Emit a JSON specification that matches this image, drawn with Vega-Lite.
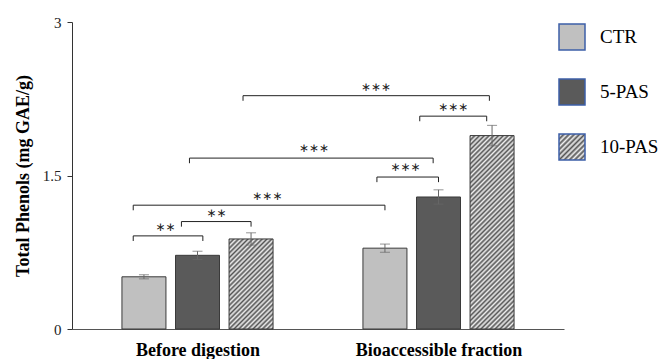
{
"$schema":"https://vega.github.io/schema/vega-lite/v6.json",
"width":492,"height":307,
"autosize":{"type":"none"},
"padding":{"left":72,"top":22,"right":99,"bottom":30},
"background":"white",
"config":{"view":{"stroke":null},"axis":{"labelFont":"Liberation Serif","titleFont":"Liberation Serif"}},
"datasets":{
"bars":[
{"grp":"Before digestion","trt":"CTR","pos":1,"v":0.51,"e":0.02},
{"grp":"Before digestion","trt":"5-PAS","pos":2,"v":0.72,"e":0.04},
{"grp":"Before digestion","trt":"10-PAS","pos":3,"v":0.88,"e":0.06},
{"grp":"Bioaccessible fraction","trt":"CTR","pos":5.5,"v":0.79,"e":0.04},
{"grp":"Bioaccessible fraction","trt":"5-PAS","pos":6.5,"v":1.29,"e":0.07},
{"grp":"Bioaccessible fraction","trt":"10-PAS","pos":7.5,"v":1.89,"e":0.1}
],
"brackets":[
{"id":"A","k":1,"pos":0.8,"y":0.86},{"id":"A","k":2,"pos":0.8,"y":0.91},{"id":"A","k":3,"pos":2.1,"y":0.91},{"id":"A","k":4,"pos":2.1,"y":0.86},
{"id":"B","k":1,"pos":1.7,"y":1.0},{"id":"B","k":2,"pos":1.7,"y":1.05},{"id":"B","k":3,"pos":3.0,"y":1.05},{"id":"B","k":4,"pos":3.0,"y":1.0},
{"id":"C","k":1,"pos":0.8,"y":1.16},{"id":"C","k":2,"pos":0.8,"y":1.21},{"id":"C","k":3,"pos":5.5,"y":1.21},{"id":"C","k":4,"pos":5.5,"y":1.16},
{"id":"D","k":1,"pos":1.85,"y":1.62},{"id":"D","k":2,"pos":1.85,"y":1.67},{"id":"D","k":3,"pos":6.4,"y":1.67},{"id":"D","k":4,"pos":6.4,"y":1.62},
{"id":"E","k":1,"pos":5.35,"y":1.435},{"id":"E","k":2,"pos":5.35,"y":1.485},{"id":"E","k":3,"pos":6.5,"y":1.485},{"id":"E","k":4,"pos":6.5,"y":1.435},
{"id":"F","k":1,"pos":2.85,"y":2.23},{"id":"F","k":2,"pos":2.85,"y":2.28},{"id":"F","k":3,"pos":7.45,"y":2.28},{"id":"F","k":4,"pos":7.45,"y":2.23},
{"id":"G","k":1,"pos":6.15,"y":2.03},{"id":"G","k":2,"pos":6.15,"y":2.08},{"id":"G","k":3,"pos":7.4,"y":2.08},{"id":"G","k":4,"pos":7.4,"y":2.03}
],
"labels":[
{"id":"A","pos":1.4,"y":1.0,"t":"∗∗"},
{"id":"B","pos":2.35,"y":1.13,"t":"∗∗"},
{"id":"C","pos":3.3,"y":1.3,"t":"∗∗∗"},
{"id":"D","pos":4.17,"y":1.766,"t":"∗∗∗"},
{"id":"E","pos":5.88,"y":1.58,"t":"∗∗∗"},
{"id":"F","pos":5.33,"y":2.368,"t":"∗∗∗"},
{"id":"G","pos":6.77,"y":2.167,"t":"∗∗∗"}
]
},
"layer":[
{
"data":{"name":"bars"},
"mark":{"type":"bar","width":44,"stroke":"#3a3a3a","strokeWidth":1},
"encoding":{
"x":{"field":"pos","type":"quantitative","scale":{"domain":[-0.25,8.75],"nice":false,"zero":false},
"axis":{"values":[2,6.5],"labelExpr":"datum.value < 4 ? 'Before digestion' : 'Bioaccessible fraction'","ticks":false,"grid":false,"title":null,"labelFont":"Liberation Serif","labelFontWeight":"bold","labelFontSize":18,"labelColor":"#000","labelPadding":12,"domainColor":"#555","labelOverlap":false,"labelFlush":false}},
"y":{"field":"v","type":"quantitative","title":"Total Phenols (mg GAE/g)","scale":{"domain":[0,3],"nice":false},
"axis":{"values":[0,1.5,3],"format":"~g","grid":false,"titleFont":"Liberation Serif","titleFontWeight":"bold","titleFontSize":18,"titleColor":"#000","titlePadding":10,"labelFont":"Liberation Serif","labelFontSize":15,"labelColor":"#222","labelPadding":6,"tickSize":5,"tickColor":"#333","domainColor":"#333"}},
"fill":{
"condition":[
{"test":"datum.trt==='10-PAS' && datum.grp==='Before digestion'","value":{"gradient":"linear","x1":0,"y1":0,"x2":1.0403,"y2":2.129,"stops":[{"offset":0,"color":"#555"},{"offset":0.01,"color":"#eee"},{"offset":0.02,"color":"#555"},{"offset":0.03,"color":"#eee"},{"offset":0.04,"color":"#555"},{"offset":0.05,"color":"#eee"},{"offset":0.06,"color":"#555"},{"offset":0.07,"color":"#eee"},{"offset":0.08,"color":"#555"},{"offset":0.09,"color":"#eee"},{"offset":0.1,"color":"#555"},{"offset":0.11,"color":"#eee"},{"offset":0.12,"color":"#555"},{"offset":0.13,"color":"#eee"},{"offset":0.14,"color":"#555"},{"offset":0.15,"color":"#eee"},{"offset":0.16,"color":"#555"},{"offset":0.17,"color":"#eee"},{"offset":0.18,"color":"#555"},{"offset":0.19,"color":"#eee"},{"offset":0.2,"color":"#555"},{"offset":0.21,"color":"#eee"},{"offset":0.22,"color":"#555"},{"offset":0.23,"color":"#eee"},{"offset":0.24,"color":"#555"},{"offset":0.25,"color":"#eee"},{"offset":0.26,"color":"#555"},{"offset":0.27,"color":"#eee"},{"offset":0.28,"color":"#555"},{"offset":0.29,"color":"#eee"},{"offset":0.3,"color":"#555"},{"offset":0.31,"color":"#eee"},{"offset":0.32,"color":"#555"},{"offset":0.33,"color":"#eee"},{"offset":0.34,"color":"#555"},{"offset":0.35,"color":"#eee"},{"offset":0.36,"color":"#555"},{"offset":0.37,"color":"#eee"},{"offset":0.38,"color":"#555"},{"offset":0.39,"color":"#eee"},{"offset":0.4,"color":"#555"},{"offset":0.41,"color":"#eee"},{"offset":0.42,"color":"#555"},{"offset":0.43,"color":"#eee"},{"offset":0.44,"color":"#555"},{"offset":0.45,"color":"#eee"},{"offset":0.46,"color":"#555"},{"offset":0.47,"color":"#eee"},{"offset":0.48,"color":"#555"},{"offset":0.49,"color":"#eee"},{"offset":0.5,"color":"#555"},{"offset":0.51,"color":"#eee"},{"offset":0.52,"color":"#555"},{"offset":0.53,"color":"#eee"},{"offset":0.54,"color":"#555"},{"offset":0.55,"color":"#eee"},{"offset":0.56,"color":"#555"},{"offset":0.57,"color":"#eee"},{"offset":0.58,"color":"#555"},{"offset":0.59,"color":"#eee"},{"offset":0.6,"color":"#555"},{"offset":0.61,"color":"#eee"},{"offset":0.62,"color":"#555"},{"offset":0.63,"color":"#eee"},{"offset":0.64,"color":"#555"},{"offset":0.65,"color":"#eee"},{"offset":0.66,"color":"#555"},{"offset":0.67,"color":"#eee"},{"offset":0.68,"color":"#555"},{"offset":0.69,"color":"#eee"},{"offset":0.7,"color":"#555"},{"offset":0.71,"color":"#eee"},{"offset":0.72,"color":"#555"},{"offset":0.73,"color":"#eee"},{"offset":0.74,"color":"#555"},{"offset":0.75,"color":"#eee"},{"offset":0.76,"color":"#555"},{"offset":0.77,"color":"#eee"},{"offset":0.78,"color":"#555"},{"offset":0.79,"color":"#eee"},{"offset":0.8,"color":"#555"},{"offset":0.81,"color":"#eee"},{"offset":0.82,"color":"#555"},{"offset":0.83,"color":"#eee"},{"offset":0.84,"color":"#555"},{"offset":0.85,"color":"#eee"},{"offset":0.86,"color":"#555"},{"offset":0.87,"color":"#eee"},{"offset":0.88,"color":"#555"},{"offset":0.89,"color":"#eee"},{"offset":0.9,"color":"#555"},{"offset":0.91,"color":"#eee"},{"offset":0.92,"color":"#555"},{"offset":0.93,"color":"#eee"},{"offset":0.94,"color":"#555"},{"offset":0.95,"color":"#eee"},{"offset":0.96,"color":"#555"},{"offset":0.97,"color":"#eee"},{"offset":0.98,"color":"#555"},{"offset":0.99,"color":"#eee"},{"offset":1,"color":"#555"}]}},
{"test":"datum.trt==='10-PAS' && datum.grp==='Bioaccessible fraction'","value":{"gradient":"linear","x1":0,"y1":0,"x2":0.2656,"y2":1.1676,"stops":[{"offset":0,"color":"#555"},{"offset":0.01,"color":"#eee"},{"offset":0.02,"color":"#555"},{"offset":0.03,"color":"#eee"},{"offset":0.04,"color":"#555"},{"offset":0.05,"color":"#eee"},{"offset":0.06,"color":"#555"},{"offset":0.07,"color":"#eee"},{"offset":0.08,"color":"#555"},{"offset":0.09,"color":"#eee"},{"offset":0.1,"color":"#555"},{"offset":0.11,"color":"#eee"},{"offset":0.12,"color":"#555"},{"offset":0.13,"color":"#eee"},{"offset":0.14,"color":"#555"},{"offset":0.15,"color":"#eee"},{"offset":0.16,"color":"#555"},{"offset":0.17,"color":"#eee"},{"offset":0.18,"color":"#555"},{"offset":0.19,"color":"#eee"},{"offset":0.2,"color":"#555"},{"offset":0.21,"color":"#eee"},{"offset":0.22,"color":"#555"},{"offset":0.23,"color":"#eee"},{"offset":0.24,"color":"#555"},{"offset":0.25,"color":"#eee"},{"offset":0.26,"color":"#555"},{"offset":0.27,"color":"#eee"},{"offset":0.28,"color":"#555"},{"offset":0.29,"color":"#eee"},{"offset":0.3,"color":"#555"},{"offset":0.31,"color":"#eee"},{"offset":0.32,"color":"#555"},{"offset":0.33,"color":"#eee"},{"offset":0.34,"color":"#555"},{"offset":0.35,"color":"#eee"},{"offset":0.36,"color":"#555"},{"offset":0.37,"color":"#eee"},{"offset":0.38,"color":"#555"},{"offset":0.39,"color":"#eee"},{"offset":0.4,"color":"#555"},{"offset":0.41,"color":"#eee"},{"offset":0.42,"color":"#555"},{"offset":0.43,"color":"#eee"},{"offset":0.44,"color":"#555"},{"offset":0.45,"color":"#eee"},{"offset":0.46,"color":"#555"},{"offset":0.47,"color":"#eee"},{"offset":0.48,"color":"#555"},{"offset":0.49,"color":"#eee"},{"offset":0.5,"color":"#555"},{"offset":0.51,"color":"#eee"},{"offset":0.52,"color":"#555"},{"offset":0.53,"color":"#eee"},{"offset":0.54,"color":"#555"},{"offset":0.55,"color":"#eee"},{"offset":0.56,"color":"#555"},{"offset":0.57,"color":"#eee"},{"offset":0.58,"color":"#555"},{"offset":0.59,"color":"#eee"},{"offset":0.6,"color":"#555"},{"offset":0.61,"color":"#eee"},{"offset":0.62,"color":"#555"},{"offset":0.63,"color":"#eee"},{"offset":0.64,"color":"#555"},{"offset":0.65,"color":"#eee"},{"offset":0.66,"color":"#555"},{"offset":0.67,"color":"#eee"},{"offset":0.68,"color":"#555"},{"offset":0.69,"color":"#eee"},{"offset":0.7,"color":"#555"},{"offset":0.71,"color":"#eee"},{"offset":0.72,"color":"#555"},{"offset":0.73,"color":"#eee"},{"offset":0.74,"color":"#555"},{"offset":0.75,"color":"#eee"},{"offset":0.76,"color":"#555"},{"offset":0.77,"color":"#eee"},{"offset":0.78,"color":"#555"},{"offset":0.79,"color":"#eee"},{"offset":0.8,"color":"#555"},{"offset":0.81,"color":"#eee"},{"offset":0.82,"color":"#555"},{"offset":0.83,"color":"#eee"},{"offset":0.84,"color":"#555"},{"offset":0.85,"color":"#eee"},{"offset":0.86,"color":"#555"},{"offset":0.87,"color":"#eee"},{"offset":0.88,"color":"#555"},{"offset":0.89,"color":"#eee"},{"offset":0.9,"color":"#555"},{"offset":0.91,"color":"#eee"},{"offset":0.92,"color":"#555"},{"offset":0.93,"color":"#eee"},{"offset":0.94,"color":"#555"},{"offset":0.95,"color":"#eee"},{"offset":0.96,"color":"#555"},{"offset":0.97,"color":"#eee"},{"offset":0.98,"color":"#555"},{"offset":0.99,"color":"#eee"},{"offset":1,"color":"#555"}]}}
],
"field":"trt","type":"nominal",
"scale":{"domain":["CTR","5-PAS","10-PAS"],"range":["#c0c0c0","#5a5a5a",{"expr":"{gradient:'linear',x1:0,y1:0,x2:1,y2:1,stops:[{offset:0,color:'#555'},{offset:0.05,color:'#eee'},{offset:0.1,color:'#555'},{offset:0.15,color:'#eee'},{offset:0.2,color:'#555'},{offset:0.25,color:'#eee'},{offset:0.3,color:'#555'},{offset:0.35,color:'#eee'},{offset:0.4,color:'#555'},{offset:0.45,color:'#eee'},{offset:0.5,color:'#555'},{offset:0.55,color:'#eee'},{offset:0.6,color:'#555'},{offset:0.65,color:'#eee'},{offset:0.7,color:'#555'},{offset:0.75,color:'#eee'},{offset:0.8,color:'#555'},{offset:0.85,color:'#eee'},{offset:0.9,color:'#555'},{offset:0.95,color:'#eee'},{offset:1,color:'#555'}]}"}]},
"legend":{"orient":"none","legendX":486,"legendY":1,"title":null,"symbolType":"square","symbolSize":676,"symbolStrokeColor":"#3d5fa8","symbolStrokeWidth":1.5,"labelFont":"Liberation Serif","labelFontSize":19,"labelColor":"#000","labelOffset":14,"rowPadding":23}
}
}
},
{
"data":{"name":"bars"},
"mark":{"type":"errorbar","color":"#666","thickness":1,"ticks":{"size":10,"color":"#666"}},
"encoding":{
"x":{"field":"pos","type":"quantitative"},
"y":{"field":"v","type":"quantitative","title":"Total Phenols (mg GAE/g)"},
"yError":{"field":"e"}
}
},
{
"data":{"name":"brackets"},
"mark":{"type":"line","color":"#222","strokeWidth":1},
"encoding":{
"x":{"field":"pos","type":"quantitative"},
"y":{"field":"y","type":"quantitative","title":"Total Phenols (mg GAE/g)"},
"detail":{"field":"id"},
"order":{"field":"k","type":"quantitative"}
}
},
{
"data":{"name":"labels"},
"mark":{"type":"text","font":"DejaVu Sans","fontSize":12,"color":"#222","baseline":"middle"},
"encoding":{
"x":{"field":"pos","type":"quantitative"},
"y":{"field":"y","type":"quantitative","title":"Total Phenols (mg GAE/g)"},
"text":{"field":"t"}
}
}
]
}
